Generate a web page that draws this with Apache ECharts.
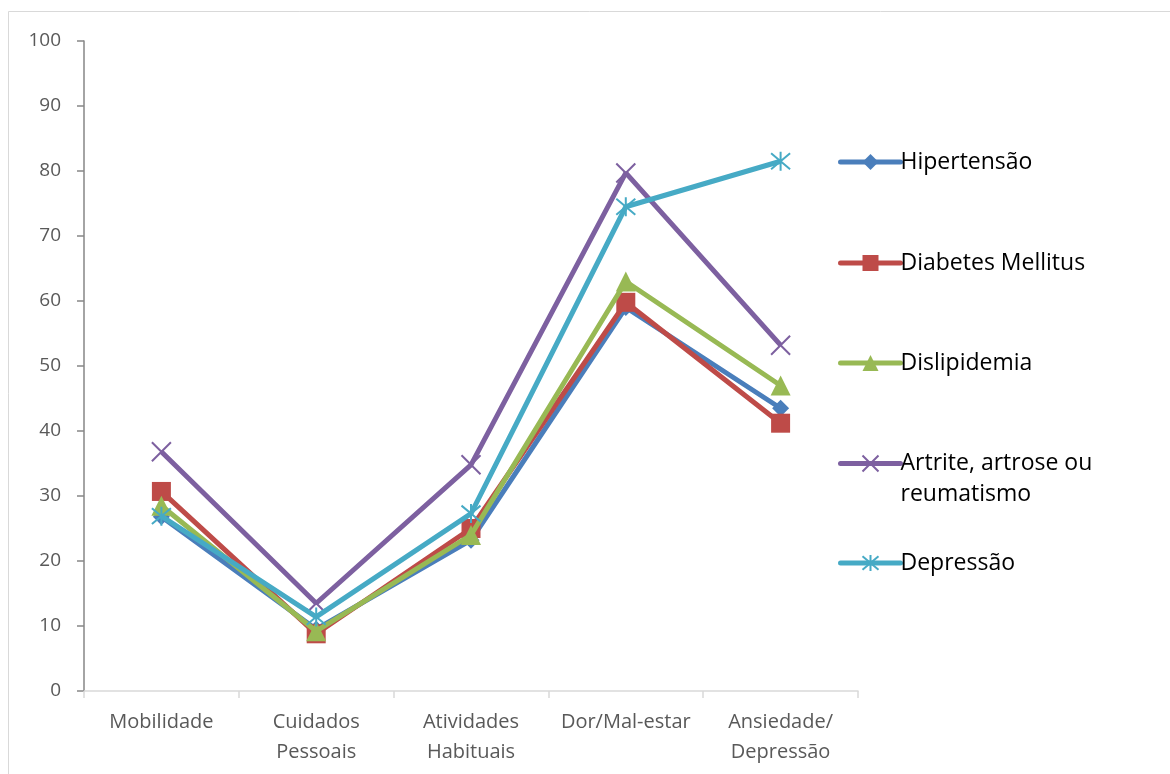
<!DOCTYPE html>
<html><head><meta charset="utf-8">
<script src="https://cdn.jsdelivr.net/npm/echarts@6/dist/echarts.min.js"></script>
<style>html,body{margin:0;padding:0;background:#fff;}#c{width:1170px;height:774px;}</style>
</head><body><div id="c"></div>
<script>
const categories = ['Mobilidade', 'Cuidados\nPessoais', 'Atividades\nHabituais', 'Dor/Mal-estar', 'Ansiedade/\nDepressão'];
const yTicks = [0, 10, 20, 30, 40, 50, 60, 70, 80, 90, 100];
const seriesNames = ['Hipertensão', 'Diabetes Mellitus', 'Dislipidemia', 'Artrite, artrose ou reumatismo', 'Depressão'];
const hipertensao = [26.8, 9.5, 23.2, 59.0, 43.5];
const diabetes = [30.7, 8.8, 25.0, 59.8, 41.2];
const dislipidemia = [28.5, 9.2, 24.0, 63.0, 47.0];
const artrite = [36.8, 13.5, 34.8, 79.7, 53.2];
const depressao = [26.9, 11.4, 27.3, 74.5, 81.5];

const colors = ['#4A7EBB', '#BE4B48', '#98B954', '#7D60A0', '#46AAC5'];
const symbols = [
  'diamond', 'rect', 'triangle',
  'path://M0,0L10,10M10,0L0,10',
  'path://M0,0L10,10M10,0L0,10M5,-1L5,11'
];
const symbolSizes = [17, 19, 20, 19, 19];
const allData = [hipertensao, diabetes, dislipidemia, artrite, depressao];

function itemStyleFor(i) {
  return i >= 3
    ? { color: 'rgba(0,0,0,0)', borderColor: colors[i], borderWidth: 2 }
    : { color: colors[i], borderColor: colors[i], borderWidth: 0 };
}

const chart = echarts.init(document.getElementById('c'));
const series = seriesNames.map((n, i) => ({
  name: n, type: 'line', data: allData[i],
  symbol: symbols[i], symbolSize: symbolSizes[i],
  showAllSymbol: true,
  lineStyle: { color: colors[i], width: 5 },
  itemStyle: itemStyleFor(i),
  emphasis: { disabled: true },
  z: 2 + i
}));

const legendTops = [141.5, 242.5, 342.5, 412, 542.5];
const legends = seriesNames.map((n, i) => ({
  data: [{ name: n, itemStyle: itemStyleFor(i), lineStyle: { color: colors[i], width: 5, cap: 'round' } }],
  orient: 'vertical', left: 833, top: legendTops[i],
  itemWidth: 60, itemHeight: 20, itemGap: 0,
  formatter: i === 3 ? ' \nArtrite, artrose ou\nreumatismo' : '{name}',
  textStyle: { fontFamily: 'Open Sans', fontSize: 23, color: '#000', padding: [0, 0, 0, -5], lineHeight: 31 },
  selectedMode: false
}));

chart.setOption({
  animation: false,
  backgroundColor: '#fff',
  graphic: [{ type: 'rect', shape: { x: 8.5, y: 11.5, width: 1200, height: 800 }, style: { fill: 'none', stroke: '#D9D9D9', lineWidth: 1 }, silent: true, z: -10 }],
  legend: legends,
  grid: { left: 84, top: 41, right: 312, bottom: 83, containLabel: false },
  xAxis: {
    type: 'category', data: categories, boundaryGap: true,
    axisLine: { lineStyle: { color: '#D9D9D9', width: 1.5 } },
    axisTick: { show: true, alignWithLabel: false, length: 7, lineStyle: { color: '#D9D9D9', width: 1.5 } },
    axisLabel: { color: '#595959', fontFamily: 'Open Sans', fontSize: 20, lineHeight: 30, margin: 16, interval: 0 },
    splitLine: { show: false }
  },
  yAxis: {
    type: 'value', min: 0, max: 100, interval: 10,
    axisLine: { show: true, lineStyle: { color: '#868686', width: 1.5 } },
    axisTick: { show: true, length: 7, lineStyle: { color: '#868686', width: 1.5 } },
    axisLabel: { color: '#595959', fontFamily: 'Open Sans', fontSize: 19, margin: 23, formatter: v => yTicks.includes(v) ? String(v) : '' },
    splitLine: { show: false }
  },
  series: series
});
</script></body></html>
